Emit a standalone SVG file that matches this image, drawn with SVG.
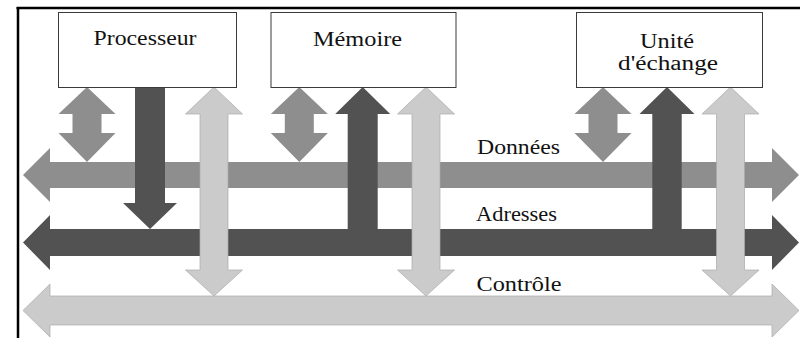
<svg xmlns="http://www.w3.org/2000/svg" width="800" height="338" viewBox="0 0 800 338">
  <style>
    .box { fill: #ffffff; stroke: #3a3a3a; stroke-width: 1; }
    .lbl { font-family: "Liberation Serif", "Times New Roman", serif; fill: #111111; }
    .boxlbl { font-size: 22px; text-anchor: middle; }
    .twoline { font-size: 20px; }
    .buslbl { font-size: 21px; }
    .data { fill: #8e8e8e; }
    .addr { fill: #525252; }
    .ctrl { fill: #cbcbcb; stroke: #a9a9a9; stroke-width: 0.7; }
  </style>

  <!-- frame -->
  <g id="frame" stroke="#000000" stroke-width="2.5" fill="none">
    <line x1="16.5" y1="8" x2="800" y2="8"/>
    <line x1="18" y1="7" x2="18" y2="338"/>
  </g>

  <!-- system buses -->
  <g id="buses">
    <polygon id="bus-donnees" class="data" points="23,175 50,148 50,162 772,162 772,148 799,175 772,202 772,188 50,188 50,202"/>
    <polygon id="bus-adresses" class="addr" points="23,242.5 50,215 50,229 772,229 772,215 799,242.5 772,270 772,256 50,256 50,270"/>
    <polygon id="bus-controle" class="ctrl" points="23,310.5 50,284 50,296 772,296 772,284 799,310.5 772,337 772,325 50,325 50,337"/>
  </g>

  <!-- connectors between units and buses -->
  <g id="connectors">
    <!-- data: bidirectional -->
    <polygon class="data" points="87,87 115.5,114 101.5,114 101.5,133 115.5,133 87,162 58.5,133 72.5,133 72.5,114 58.5,114"/>
    <polygon class="data" points="299.3,87 327.8,114 313.8,114 313.8,133 327.8,133 299.3,162 270.8,133 284.8,133 284.8,114 270.8,114"/>
    <polygon class="data" points="603,87 631.5,114 617.5,114 617.5,133 631.5,133 603,162 574.5,133 588.5,133 588.5,114 574.5,114"/>
    <!-- address: processor drives, others receive -->
    <polygon class="addr" points="135,87 165,87 165,203 177,203 150,229 123,203 135,203"/>
    <polygon class="addr" points="362.7,87 390.2,114 377.7,114 377.7,242 347.7,242 347.7,114 335.2,114"/>
    <polygon class="addr" points="667,87 694.5,114 681.7,114 681.7,242 652.3,242 652.3,114 639.5,114"/>
    <!-- control: bidirectional -->
    <polygon class="ctrl" points="214,87 242.5,114 228,114 228,270 242.5,270 214,296 185.5,270 200,270 200,114 185.5,114"/>
    <polygon class="ctrl" points="426,87 454.5,114 440,114 440,270 454.5,270 426,296 397.5,270 412,270 412,114 397.5,114"/>
    <polygon class="ctrl" points="730.5,87 759,114 744.5,114 744.5,270 759,270 730.5,296 702,270 716.5,270 716.5,114 702,114"/>
  </g>

  <!-- units -->
  <g id="processeur">
    <rect class="box" x="58.5" y="12.5" width="178" height="75"/>
    <text class="lbl boxlbl" x="145" y="44.5" textLength="103" lengthAdjust="spacingAndGlyphs">Processeur</text>
  </g>
  <g id="memoire">
    <rect class="box" x="271" y="12.5" width="185" height="75"/>
    <text class="lbl boxlbl" x="357.5" y="45.5" textLength="89" lengthAdjust="spacingAndGlyphs">Mémoire</text>
  </g>
  <g id="unite-echange">
    <rect class="box" x="576.5" y="12.5" width="186" height="75"/>
    <text class="lbl boxlbl twoline" x="667" y="47.5" textLength="54" lengthAdjust="spacingAndGlyphs">Unité</text>
    <text class="lbl boxlbl twoline" x="668" y="70" textLength="100" lengthAdjust="spacingAndGlyphs">d'échange</text>
  </g>

  <!-- bus names -->
  <g id="bus-labels">
    <text class="lbl buslbl" x="477" y="154" textLength="83" lengthAdjust="spacingAndGlyphs">Données</text>
    <text class="lbl buslbl" x="476" y="221" textLength="81" lengthAdjust="spacingAndGlyphs">Adresses</text>
    <text class="lbl buslbl" x="476.5" y="291" textLength="85" lengthAdjust="spacingAndGlyphs">Contrôle</text>
  </g>
</svg>
